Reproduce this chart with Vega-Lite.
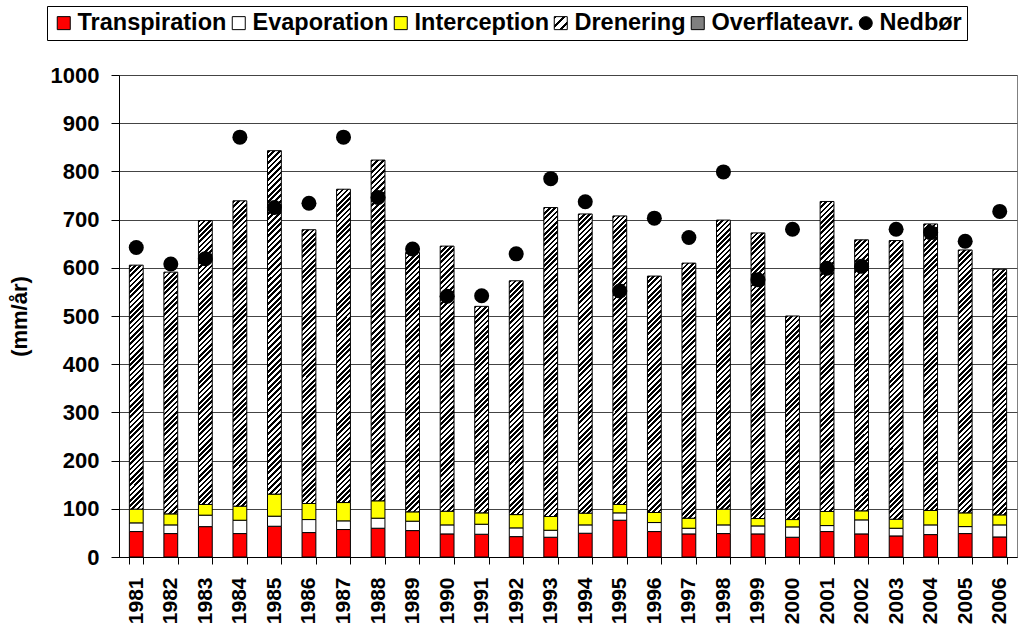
{
"$schema":"https://vega.github.io/schema/vega-lite/v6.json",
"width":898,"height":482,
"autosize":{"type":"none"},
"padding":{"left":119,"top":75,"right":7,"bottom":74},
"background":"white",
"params":[{"name":"hatch","value":[
{"offset":0,"color":"#000"},
{"offset":0.0078,"color":"#000"},{"offset":0.0078,"color":"#fff"},
{"offset":0.0156,"color":"#fff"},{"offset":0.0156,"color":"#000"},
{"offset":0.0234,"color":"#000"},{"offset":0.0234,"color":"#fff"},
{"offset":0.0313,"color":"#fff"},{"offset":0.0313,"color":"#000"},
{"offset":0.0391,"color":"#000"},{"offset":0.0391,"color":"#fff"},
{"offset":0.0469,"color":"#fff"},{"offset":0.0469,"color":"#000"},
{"offset":0.0547,"color":"#000"},{"offset":0.0547,"color":"#fff"},
{"offset":0.0625,"color":"#fff"},{"offset":0.0625,"color":"#000"},
{"offset":0.0703,"color":"#000"},{"offset":0.0703,"color":"#fff"},
{"offset":0.0781,"color":"#fff"},{"offset":0.0781,"color":"#000"},
{"offset":0.0859,"color":"#000"},{"offset":0.0859,"color":"#fff"},
{"offset":0.0938,"color":"#fff"},{"offset":0.0938,"color":"#000"},
{"offset":0.1016,"color":"#000"},{"offset":0.1016,"color":"#fff"},
{"offset":0.1094,"color":"#fff"},{"offset":0.1094,"color":"#000"},
{"offset":0.1172,"color":"#000"},{"offset":0.1172,"color":"#fff"},
{"offset":0.125,"color":"#fff"},{"offset":0.125,"color":"#000"},
{"offset":0.1328,"color":"#000"},{"offset":0.1328,"color":"#fff"},
{"offset":0.1406,"color":"#fff"},{"offset":0.1406,"color":"#000"},
{"offset":0.1484,"color":"#000"},{"offset":0.1484,"color":"#fff"},
{"offset":0.1563,"color":"#fff"},{"offset":0.1563,"color":"#000"},
{"offset":0.1641,"color":"#000"},{"offset":0.1641,"color":"#fff"},
{"offset":0.1719,"color":"#fff"},{"offset":0.1719,"color":"#000"},
{"offset":0.1797,"color":"#000"},{"offset":0.1797,"color":"#fff"},
{"offset":0.1875,"color":"#fff"},{"offset":0.1875,"color":"#000"},
{"offset":0.1953,"color":"#000"},{"offset":0.1953,"color":"#fff"},
{"offset":0.2031,"color":"#fff"},{"offset":0.2031,"color":"#000"},
{"offset":0.2109,"color":"#000"},{"offset":0.2109,"color":"#fff"},
{"offset":0.2188,"color":"#fff"},{"offset":0.2188,"color":"#000"},
{"offset":0.2266,"color":"#000"},{"offset":0.2266,"color":"#fff"},
{"offset":0.2344,"color":"#fff"},{"offset":0.2344,"color":"#000"},
{"offset":0.2422,"color":"#000"},{"offset":0.2422,"color":"#fff"},
{"offset":0.25,"color":"#fff"},{"offset":0.25,"color":"#000"},
{"offset":0.2578,"color":"#000"},{"offset":0.2578,"color":"#fff"},
{"offset":0.2656,"color":"#fff"},{"offset":0.2656,"color":"#000"},
{"offset":0.2734,"color":"#000"},{"offset":0.2734,"color":"#fff"},
{"offset":0.2813,"color":"#fff"},{"offset":0.2813,"color":"#000"},
{"offset":0.2891,"color":"#000"},{"offset":0.2891,"color":"#fff"},
{"offset":0.2969,"color":"#fff"},{"offset":0.2969,"color":"#000"},
{"offset":0.3047,"color":"#000"},{"offset":0.3047,"color":"#fff"},
{"offset":0.3125,"color":"#fff"},{"offset":0.3125,"color":"#000"},
{"offset":0.3203,"color":"#000"},{"offset":0.3203,"color":"#fff"},
{"offset":0.3281,"color":"#fff"},{"offset":0.3281,"color":"#000"},
{"offset":0.3359,"color":"#000"},{"offset":0.3359,"color":"#fff"},
{"offset":0.3438,"color":"#fff"},{"offset":0.3438,"color":"#000"},
{"offset":0.3516,"color":"#000"},{"offset":0.3516,"color":"#fff"},
{"offset":0.3594,"color":"#fff"},{"offset":0.3594,"color":"#000"},
{"offset":0.3672,"color":"#000"},{"offset":0.3672,"color":"#fff"},
{"offset":0.375,"color":"#fff"},{"offset":0.375,"color":"#000"},
{"offset":0.3828,"color":"#000"},{"offset":0.3828,"color":"#fff"},
{"offset":0.3906,"color":"#fff"},{"offset":0.3906,"color":"#000"},
{"offset":0.3984,"color":"#000"},{"offset":0.3984,"color":"#fff"},
{"offset":0.4063,"color":"#fff"},{"offset":0.4063,"color":"#000"},
{"offset":0.4141,"color":"#000"},{"offset":0.4141,"color":"#fff"},
{"offset":0.4219,"color":"#fff"},{"offset":0.4219,"color":"#000"},
{"offset":0.4297,"color":"#000"},{"offset":0.4297,"color":"#fff"},
{"offset":0.4375,"color":"#fff"},{"offset":0.4375,"color":"#000"},
{"offset":0.4453,"color":"#000"},{"offset":0.4453,"color":"#fff"},
{"offset":0.4531,"color":"#fff"},{"offset":0.4531,"color":"#000"},
{"offset":0.4609,"color":"#000"},{"offset":0.4609,"color":"#fff"},
{"offset":0.4688,"color":"#fff"},{"offset":0.4688,"color":"#000"},
{"offset":0.4766,"color":"#000"},{"offset":0.4766,"color":"#fff"},
{"offset":0.4844,"color":"#fff"},{"offset":0.4844,"color":"#000"},
{"offset":0.4922,"color":"#000"},{"offset":0.4922,"color":"#fff"},
{"offset":0.5,"color":"#fff"},{"offset":0.5,"color":"#000"},
{"offset":0.5078,"color":"#000"},{"offset":0.5078,"color":"#fff"},
{"offset":0.5156,"color":"#fff"},{"offset":0.5156,"color":"#000"},
{"offset":0.5234,"color":"#000"},{"offset":0.5234,"color":"#fff"},
{"offset":0.5313,"color":"#fff"},{"offset":0.5313,"color":"#000"},
{"offset":0.5391,"color":"#000"},{"offset":0.5391,"color":"#fff"},
{"offset":0.5469,"color":"#fff"},{"offset":0.5469,"color":"#000"},
{"offset":0.5547,"color":"#000"},{"offset":0.5547,"color":"#fff"},
{"offset":0.5625,"color":"#fff"},{"offset":0.5625,"color":"#000"},
{"offset":0.5703,"color":"#000"},{"offset":0.5703,"color":"#fff"},
{"offset":0.5781,"color":"#fff"},{"offset":0.5781,"color":"#000"},
{"offset":0.5859,"color":"#000"},{"offset":0.5859,"color":"#fff"},
{"offset":0.5938,"color":"#fff"},{"offset":0.5938,"color":"#000"},
{"offset":0.6016,"color":"#000"},{"offset":0.6016,"color":"#fff"},
{"offset":0.6094,"color":"#fff"},{"offset":0.6094,"color":"#000"},
{"offset":0.6172,"color":"#000"},{"offset":0.6172,"color":"#fff"},
{"offset":0.625,"color":"#fff"},{"offset":0.625,"color":"#000"},
{"offset":0.6328,"color":"#000"},{"offset":0.6328,"color":"#fff"},
{"offset":0.6406,"color":"#fff"},{"offset":0.6406,"color":"#000"},
{"offset":0.6484,"color":"#000"},{"offset":0.6484,"color":"#fff"},
{"offset":0.6563,"color":"#fff"},{"offset":0.6563,"color":"#000"},
{"offset":0.6641,"color":"#000"},{"offset":0.6641,"color":"#fff"},
{"offset":0.6719,"color":"#fff"},{"offset":0.6719,"color":"#000"},
{"offset":0.6797,"color":"#000"},{"offset":0.6797,"color":"#fff"},
{"offset":0.6875,"color":"#fff"},{"offset":0.6875,"color":"#000"},
{"offset":0.6953,"color":"#000"},{"offset":0.6953,"color":"#fff"},
{"offset":0.7031,"color":"#fff"},{"offset":0.7031,"color":"#000"},
{"offset":0.7109,"color":"#000"},{"offset":0.7109,"color":"#fff"},
{"offset":0.7188,"color":"#fff"},{"offset":0.7188,"color":"#000"},
{"offset":0.7266,"color":"#000"},{"offset":0.7266,"color":"#fff"},
{"offset":0.7344,"color":"#fff"},{"offset":0.7344,"color":"#000"},
{"offset":0.7422,"color":"#000"},{"offset":0.7422,"color":"#fff"},
{"offset":0.75,"color":"#fff"},{"offset":0.75,"color":"#000"},
{"offset":0.7578,"color":"#000"},{"offset":0.7578,"color":"#fff"},
{"offset":0.7656,"color":"#fff"},{"offset":0.7656,"color":"#000"},
{"offset":0.7734,"color":"#000"},{"offset":0.7734,"color":"#fff"},
{"offset":0.7813,"color":"#fff"},{"offset":0.7813,"color":"#000"},
{"offset":0.7891,"color":"#000"},{"offset":0.7891,"color":"#fff"},
{"offset":0.7969,"color":"#fff"},{"offset":0.7969,"color":"#000"},
{"offset":0.8047,"color":"#000"},{"offset":0.8047,"color":"#fff"},
{"offset":0.8125,"color":"#fff"},{"offset":0.8125,"color":"#000"},
{"offset":0.8203,"color":"#000"},{"offset":0.8203,"color":"#fff"},
{"offset":0.8281,"color":"#fff"},{"offset":0.8281,"color":"#000"},
{"offset":0.8359,"color":"#000"},{"offset":0.8359,"color":"#fff"},
{"offset":0.8438,"color":"#fff"},{"offset":0.8438,"color":"#000"},
{"offset":0.8516,"color":"#000"},{"offset":0.8516,"color":"#fff"},
{"offset":0.8594,"color":"#fff"},{"offset":0.8594,"color":"#000"},
{"offset":0.8672,"color":"#000"},{"offset":0.8672,"color":"#fff"},
{"offset":0.875,"color":"#fff"},{"offset":0.875,"color":"#000"},
{"offset":0.8828,"color":"#000"},{"offset":0.8828,"color":"#fff"},
{"offset":0.8906,"color":"#fff"},{"offset":0.8906,"color":"#000"},
{"offset":0.8984,"color":"#000"},{"offset":0.8984,"color":"#fff"},
{"offset":0.9063,"color":"#fff"},{"offset":0.9063,"color":"#000"},
{"offset":0.9141,"color":"#000"},{"offset":0.9141,"color":"#fff"},
{"offset":0.9219,"color":"#fff"},{"offset":0.9219,"color":"#000"},
{"offset":0.9297,"color":"#000"},{"offset":0.9297,"color":"#fff"},
{"offset":0.9375,"color":"#fff"},{"offset":0.9375,"color":"#000"},
{"offset":0.9453,"color":"#000"},{"offset":0.9453,"color":"#fff"},
{"offset":0.9531,"color":"#fff"},{"offset":0.9531,"color":"#000"},
{"offset":0.9609,"color":"#000"},{"offset":0.9609,"color":"#fff"},
{"offset":0.9688,"color":"#fff"},{"offset":0.9688,"color":"#000"},
{"offset":0.9766,"color":"#000"},{"offset":0.9766,"color":"#fff"},
{"offset":0.9844,"color":"#fff"},{"offset":0.9844,"color":"#000"},
{"offset":0.9922,"color":"#000"},{"offset":0.9922,"color":"#fff"},
{"offset":1,"color":"#fff"}]}],
"config":{
 "font":"Liberation Sans",
 "view":{"stroke":"#808080","strokeWidth":1},
 "axis":{"labelFont":"Liberation Sans","labelFontWeight":"bold","labelColor":"#000","domainColor":"#000","tickColor":"#000","titleFont":"Liberation Sans","titleFontWeight":"bold","titleColor":"#000"},
 "legend":{"orient":"none","legendX":-72,"legendY":-69,"direction":"horizontal","labelFont":"Liberation Sans","labelFontWeight":"bold","labelFontSize":23.5,"labelColor":"#000","symbolSize":169,"symbolStrokeWidth":1,"labelOffset":2,"columnPadding":0,"padding":5,"strokeColor":"#000","strokeWidth":1,"labelLimit":0,"title":null}
},
"data":{"values":[
{"year":"1981","Transpiration":52.8,"Evaporation":18.0,"Interception":28.5,"Drenering":506.2,"Nedbør":642},
{"year":"1982","Transpiration":48.6,"Evaporation":18.0,"Interception":22.9,"Drenering":501.5,"Nedbør":608},
{"year":"1983","Transpiration":63.0,"Evaporation":23.8,"Interception":22.2,"Drenering":589.0,"Nedbør":619},
{"year":"1984","Transpiration":48.6,"Evaporation":27.7,"Interception":29.2,"Drenering":633.5,"Nedbør":871},
{"year":"1985","Transpiration":63.8,"Evaporation":20.9,"Interception":45.8,"Drenering":712.5,"Nedbør":725},
{"year":"1986","Transpiration":50.7,"Evaporation":27.0,"Interception":33.3,"Drenering":568.0,"Nedbør":734},
{"year":"1987","Transpiration":57.0,"Evaporation":18.0,"Interception":38.0,"Drenering":650.0,"Nedbør":871},
{"year":"1988","Transpiration":59.7,"Evaporation":20.8,"Interception":36.1,"Drenering":706.9,"Nedbør":746},
{"year":"1989","Transpiration":54.8,"Evaporation":19.5,"Interception":19.4,"Drenering":538.3,"Nedbør":639},
{"year":"1990","Transpiration":47.9,"Evaporation":18.7,"Interception":28.4,"Drenering":550.0,"Nedbør":541},
{"year":"1991","Transpiration":47.2,"Evaporation":20.8,"Interception":23.6,"Drenering":428.4,"Nedbør":542},
{"year":"1992","Transpiration":42.3,"Evaporation":18.1,"Interception":27.6,"Drenering":485.0,"Nedbør":629},
{"year":"1993","Transpiration":41.0,"Evaporation":14.5,"Interception":28.5,"Drenering":641.0,"Nedbør":785},
{"year":"1994","Transpiration":49.3,"Evaporation":17.3,"Interception":24.4,"Drenering":620.7,"Nedbør":737},
{"year":"1995","Transpiration":76.3,"Evaporation":15.3,"Interception":17.4,"Drenering":598.6,"Nedbør":552},
{"year":"1996","Transpiration":52.8,"Evaporation":18.7,"Interception":20.8,"Drenering":490.5,"Nedbør":703},
{"year":"1997","Transpiration":47.9,"Evaporation":11.8,"Interception":20.8,"Drenering":529.2,"Nedbør":663},
{"year":"1998","Transpiration":48.6,"Evaporation":18.0,"Interception":32.7,"Drenering":599.7,"Nedbør":799},
{"year":"1999","Transpiration":47.9,"Evaporation":16.6,"Interception":15.3,"Drenering":592.6,"Nedbør":575},
{"year":"2000","Transpiration":41.0,"Evaporation":21.5,"Interception":15.2,"Drenering":422.3,"Nedbør":680},
{"year":"2001","Transpiration":52.8,"Evaporation":12.4,"Interception":29.2,"Drenering":643.2,"Nedbør":599},
{"year":"2002","Transpiration":47.9,"Evaporation":29.1,"Interception":18.8,"Drenering":562.2,"Nedbør":603},
{"year":"2003","Transpiration":43.7,"Evaporation":16.0,"Interception":18.7,"Drenering":578.1,"Nedbør":680},
{"year":"2004","Transpiration":46.5,"Evaporation":20.1,"Interception":29.9,"Drenering":594.5,"Nedbør":673},
{"year":"2005","Transpiration":48.6,"Evaporation":14.5,"Interception":28.5,"Drenering":545.4,"Nedbør":655},
{"year":"2006","Transpiration":41.6,"Evaporation":25.0,"Interception":20.8,"Drenering":509.6,"Nedbør":717}
]},
"encoding":{
 "x":{"field":"year","type":"ordinal","title":null,"scale":{"paddingInner":0.6,"paddingOuter":0.3},
  "axis":{"labelAngle":-90,"labelFontSize":21,"labelAlign":"right","labelBaseline":"middle","tickBand":"extent","tickSize":7,"labelPadding":13,"grid":false,"title":null}}
},
"layer":[
 {
  "transform":[{"fold":["Transpiration","Evaporation","Interception"],"as":["component","mm"]},
   {"lookup":"component","from":{"data":{"values":[{"component":"Transpiration","rank":1},{"component":"Evaporation","rank":2},{"component":"Interception","rank":3}]},"key":"component","fields":["rank"]}}],
  "mark":{"type":"bar","stroke":"#000","strokeWidth":1},
  "encoding":{
   "y":{"field":"mm","type":"quantitative","stack":"zero","title":"(mm/år)","scale":{"domain":[0,1000]},
    "axis":{"values":[0,100,200,300,400,500,600,700,800,900,1000],"format":"d","labelFontSize":22,"tickSize":8,"labelPadding":12,"grid":true,"gridColor":"#444","gridWidth":1,"titleFontSize":22,"titleAngle":-90,"titleX":-100,"titleY":241,"titleAlign":"center","titleBaseline":"middle"}},
   "order":{"field":"rank","type":"quantitative","sort":"ascending"},
   "color":{"field":"component","type":"nominal",
    "scale":{"domain":["Transpiration","Evaporation","Interception","Drenering","Overflateavr.","Nedbør"],
     "range":["#ff0000","#ffffff","#ffff00",
      {"expr":"{gradient: 'linear', x1: 0, y1: 0, x2: 1, y2: 1, stops: [{offset: 0, color: '#000'}, {offset: 0.12, color: '#000'}, {offset: 0.12, color: '#fff'}, {offset: 0.333, color: '#fff'}, {offset: 0.333, color: '#000'}, {offset: 0.453, color: '#000'}, {offset: 0.453, color: '#fff'}, {offset: 0.667, color: '#fff'}, {offset: 0.667, color: '#000'}, {offset: 0.787, color: '#000'}, {offset: 0.787, color: '#fff'}, {offset: 1, color: '#fff'}]}"},
      "#808080","#000000"]},
    "legend":{"encode":{"symbols":{"stroke":{"value":"#000"},"strokeWidth":{"value":1}}}}
   }
  }
 },
 {
  "transform":[{"fold":["Transpiration","Evaporation","Interception","Drenering"],"as":["component","mm"]},
   {"stack":"mm","groupby":["year"],"sort":[{"field":"component","order":"descending"}],"as":["d0","d1"]},
   {"filter":"datum.component === 'Drenering'"}],
  "mark":{"type":"bar","stroke":"#000","strokeWidth":1},
  "encoding":{
   "y":{"field":"d1","type":"quantitative","title":"(mm/år)"},
   "y2":{"field":"d0"},
   "fill":{"field":"year","type":"nominal","legend":null,
    "scale":{"domain":["1981","1982","1983","1984","1985","1986","1987","1988","1989","1990","1991","1992","1993","1994","1995","1996","1997","1998","1999","2000","2001","2002","2003","2004","2005","2006"],
     "range":[
      {"expr":"{gradient:'linear',x1:0,y1:0,x2:0.0773,y2:1.365,stops:hatch}"},
      {"expr":"{gradient:'linear',x1:0,y1:0,x2:0.0787,y2:1.378,stops:hatch}"},
      {"expr":"{gradient:'linear',x1:0,y1:0,x2:0.0571,y2:1.173,stops:hatch}"},
      {"expr":"{gradient:'linear',x1:0,y1:0,x2:0.0494,y2:1.091,stops:hatch}"},
      {"expr":"{gradient:'linear',x1:0,y1:0,x2:0.0422,y2:1.05,stops:hatch}"},
      {"expr":"{gradient:'linear',x1:0,y1:0,x2:0.0614,y2:1.216,stops:hatch}"},
      {"expr":"{gradient:'linear',x1:0,y1:0,x2:0.0469,y2:1.063,stops:hatch}"},
      {"expr":"{gradient:'linear',x1:0,y1:0,x2:0.0426,y2:1.05,stops:hatch}"},
      {"expr":"{gradient:'linear',x1:0,y1:0,x2:0.0683,y2:1.283,stops:hatch}"},
      {"expr":"{gradient:'linear',x1:0,y1:0,x2:0.0655,y2:1.256,stops:hatch}"},
      {"expr":"{gradient:'linear',x1:0,y1:0,x2:0.1079,y2:1.613,stops:hatch}"},
      {"expr":"{gradient:'linear',x1:0,y1:0,x2:0.0842,y2:1.424,stops:hatch}"},
      {"expr":"{gradient:'linear',x1:0,y1:0,x2:0.0482,y2:1.078,stops:hatch}"},
      {"expr":"{gradient:'linear',x1:0,y1:0,x2:0.0514,y2:1.113,stops:hatch}"},
      {"expr":"{gradient:'linear',x1:0,y1:0,x2:0.0553,y2:1.154,stops:hatch}"},
      {"expr":"{gradient:'linear',x1:0,y1:0,x2:0.0823,y2:1.409,stops:hatch}"},
      {"expr":"{gradient:'linear',x1:0,y1:0,x2:0.0707,y2:1.305,stops:hatch}"},
      {"expr":"{gradient:'linear',x1:0,y1:0,x2:0.0550,y2:1.152,stops:hatch}"},
      {"expr":"{gradient:'linear',x1:0,y1:0,x2:0.0564,y2:1.166,stops:hatch}"},
      {"expr":"{gradient:'linear',x1:0,y1:0,x2:0.1111,y2:1.636,stops:hatch}"},
      {"expr":"{gradient:'linear',x1:0,y1:0,x2:0.0479,y2:1.074,stops:hatch}"},
      {"expr":"{gradient:'linear',x1:0,y1:0,x2:0.0626,y2:1.229,stops:hatch}"},
      {"expr":"{gradient:'linear',x1:0,y1:0,x2:0.0593,y2:1.195,stops:hatch}"},
      {"expr":"{gradient:'linear',x1:0,y1:0,x2:0.0560,y2:1.162,stops:hatch}"},
      {"expr":"{gradient:'linear',x1:0,y1:0,x2:0.0666,y2:1.267,stops:hatch}"},
      {"expr":"{gradient:'linear',x1:0,y1:0,x2:0.0763,y2:1.356,stops:hatch}"}
     ]}}
  }
 },
 {
  "mark":{"type":"point","filled":true,"size":225,"opacity":1},
  "encoding":{
   "y":{"field":"Nedbør","type":"quantitative","title":"(mm/år)"},
   "color":{"datum":"Nedbør","type":"nominal"},
   "shape":{"datum":"Nedbør","type":"nominal","scale":{"domain":["Transpiration","Evaporation","Interception","Drenering","Overflateavr.","Nedbør"],"range":["square","square","square","square","square","circle"]}}
  }
 }
]
}
